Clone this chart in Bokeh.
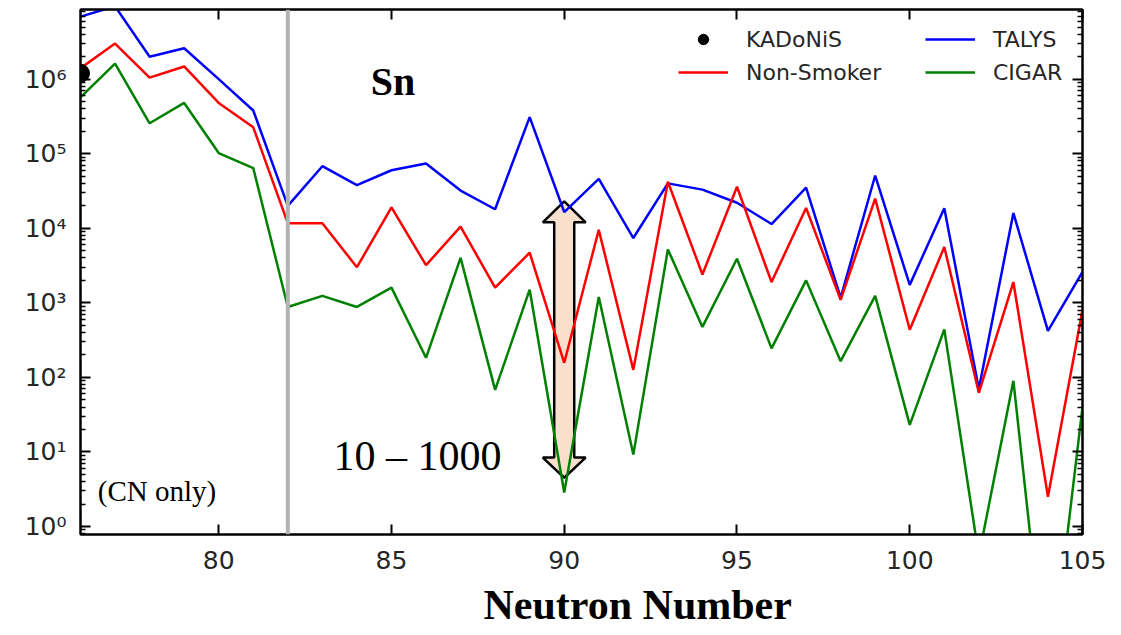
from bokeh.plotting import figure
from bokeh.models import (Range1d, LinearAxis, LogAxis, Span, Label, Legend, LegendItem,
                          PolyAnnotation, FixedTicker, Title)
from bokeh.embed import file_html
from bokeh.resources import INLINE

# ---------------- data ----------------
neutron_number = list(range(76, 106))
talys = [6.9e6, 9.5e6, 2.0e6, 2.6e6, 1.0e6, 3.8e5, 2.0e4, 6.8e4, 3.8e4, 6.0e4,
         7.4e4, 3.2e4, 1.8e4, 3.1e5, 1.65e4, 4.6e4, 7.4e3, 4.0e4, 3.3e4, 2.2e4,
         1.14e4, 3.5e4, 1.17e3, 5.1e4, 1.74e3, 1.86e4, 70, 1.6e4, 420, 2.6e3]
non_smoker = [1.4e6, 3.0e6, 1.05e6, 1.48e6, 4.8e5, 2.26e5, 1.17e4, 1.17e4, 3.0e3, 1.9e4,
              3.2e3, 1.05e4, 1.6e3, 4.7e3, 157, 9.5e3, 126, 4.2e4, 2.4e3, 3.6e4,
              1.9e3, 1.87e4, 1.1e3, 2.5e4, 435, 5.6e3, 62, 1.9e3, 2.5, 800]
cigar = [5.7e5, 1.62e6, 2.56e5, 4.8e5, 1.02e5, 6.4e4, 880, 1.24e3, 880, 1.6e3,
         183, 4.0e3, 68, 1.5e3, 2.85, 1.2e3, 9.2, 5.2e3, 475, 3.9e3,
         245, 2.0e3, 165, 1.24e3, 23, 440, 0.4, 90, 0.005, 40]
kadonis_n = [76]
kadonis_val = [1.2e6]

x_ticks = [80, 85, 90, 95, 100, 105]
y_ticks = [1, 10, 100, 1e3, 1e4, 1e5, 1e6]
y_tick_labels = ["10\u2070", "10\u00b9", "10\u00b2", "10\u00b3", "10\u2074", "10\u2075", "10\u2076"]
y_minor = [m * 10 ** k for k in range(-1, 7) for m in range(2, 10)]

# ---------------- figure ----------------
p = figure(width=1121, height=635, y_axis_type="log",
           x_range=Range1d(76, 105), y_range=Range1d(0.78, 8.6e6),
           output_backend="svg", toolbar_location=None,
           min_border_left=80, min_border_right=39, min_border_top=9, min_border_bottom=100)
p.background_fill_color = "white"
p.border_fill_color = "white"
p.outline_line_color = "black"
p.outline_line_width = 2
p.xgrid.visible = False
p.ygrid.visible = False

tick_font = "DejaVu Sans"

def style_axis(ax, show_labels, minor):
    ax.axis_line_color = "black"
    ax.axis_line_width = 2
    ax.major_tick_in = 10
    ax.major_tick_out = 0
    ax.major_tick_line_width = 2
    ax.major_tick_line_color = "black"
    ax.minor_tick_in = 5
    ax.minor_tick_out = 0
    ax.minor_tick_line_width = 1.5
    ax.minor_tick_line_color = "black" if minor else None
    ax.major_label_text_font = tick_font
    if show_labels:
        ax.major_label_text_font_size = "25px"
        ax.major_label_text_color = "#262626"
    else:
        ax.major_label_text_font_size = "1px"
        ax.major_label_text_color = None
        ax.major_label_standoff = 0

xt = FixedTicker(ticks=x_ticks, minor_ticks=[])
yt = FixedTicker(ticks=y_ticks, minor_ticks=y_minor)

p.xaxis.ticker = xt
p.yaxis.ticker = yt
p.yaxis.major_label_overrides = dict(zip(y_ticks, y_tick_labels))
style_axis(p.xaxis[0], True, False)
style_axis(p.yaxis[0], True, True)
p.xaxis.major_label_standoff = 16
p.yaxis.major_label_standoff = 14

top_ax = LinearAxis(ticker=xt)
style_axis(top_ax, False, False)
p.add_layout(top_ax, "above")
right_ax = LogAxis(ticker=yt)
style_axis(right_ax, False, True)
p.add_layout(right_ax, "right")

# ---------------- annotations ----------------
p.add_layout(Span(location=82, dimension="height", line_color="#b3b3b3", line_width=4))

ax_c, hw_s, hw_h = 90, 0.29, 0.62
y_tip_top, y_base_top, y_base_bot, y_tip_bot = 2.3e4, 1.2e4, 8.4, 4.5
arrow = PolyAnnotation(
    xs=[ax_c, ax_c + hw_h, ax_c + hw_s, ax_c + hw_s, ax_c + hw_h, ax_c,
        ax_c - hw_h, ax_c - hw_s, ax_c - hw_s, ax_c - hw_h],
    ys=[y_tip_top, y_base_top, y_base_top, y_base_bot, y_base_bot, y_tip_bot,
        y_base_bot, y_base_bot, y_base_top, y_base_top],
    fill_color="#f9e0cd", fill_alpha=1.0, line_color="black", line_alpha=1.0,
    line_width=2.5, level="underlay")
p.add_layout(arrow)

# ---------------- data lines ----------------
r_t = p.line(neutron_number, talys, color="#0000ff", line_width=2.5)
r_n = p.line(neutron_number, non_smoker, color="#ff0000", line_width=2.5)
r_c = p.line(neutron_number, cigar, color="#008000", line_width=2.5)
p.scatter(kadonis_n, kadonis_val, size=18, color="black")
r_k = p.scatter(kadonis_n, kadonis_val, size=11, color="black")

# ---------------- texts ----------------
p.add_layout(Label(x=84.4, y=10 ** 5.97, text="Sn", text_font="Liberation Serif",
                   text_font_size="40px", text_font_style="bold", text_color="black",
                   text_baseline="alphabetic"))
p.add_layout(Label(x=76.5, y=10 ** 0.47, text="(CN only)", text_font="Liberation Serif",
                   text_font_size="29px", text_color="black", text_baseline="alphabetic"))
p.add_layout(Label(x=83.32, y=10 ** 0.95, text="10 \u2013 1000", text_font="Liberation Serif",
                   text_font_size="42px", text_color="black", text_baseline="alphabetic"))

# ---------------- legends ----------------
def make_legend(items, loc):
    lg = Legend(items=items, location=loc, orientation="vertical",
                glyph_width=50, glyph_height=26, spacing=7, label_standoff=18,
                label_text_font=tick_font, label_text_font_size="22px",
                label_text_color="#262626", padding=0, margin=0,
                border_line_color=None, background_fill_alpha=0)
    return lg

leg1 = make_legend([LegendItem(label="KADoNiS", renderers=[r_k]),
                    LegendItem(label="Non-Smoker", renderers=[r_n])], (598, 449))
leg2 = make_legend([LegendItem(label="TALYS", renderers=[r_t]),
                    LegendItem(label="CIGAR", renderers=[r_c])], (845, 449))
p.add_layout(leg1)
p.add_layout(leg2)

# ---------------- x label ----------------
p.add_layout(Title(text="Neutron Number", align="left", offset=403,
                   text_font="Liberation Serif", text_font_size="42px",
                   text_font_style="bold", text_color="black", standoff=16), "below")

open("out.html", "w").write(file_html(p, INLINE))
